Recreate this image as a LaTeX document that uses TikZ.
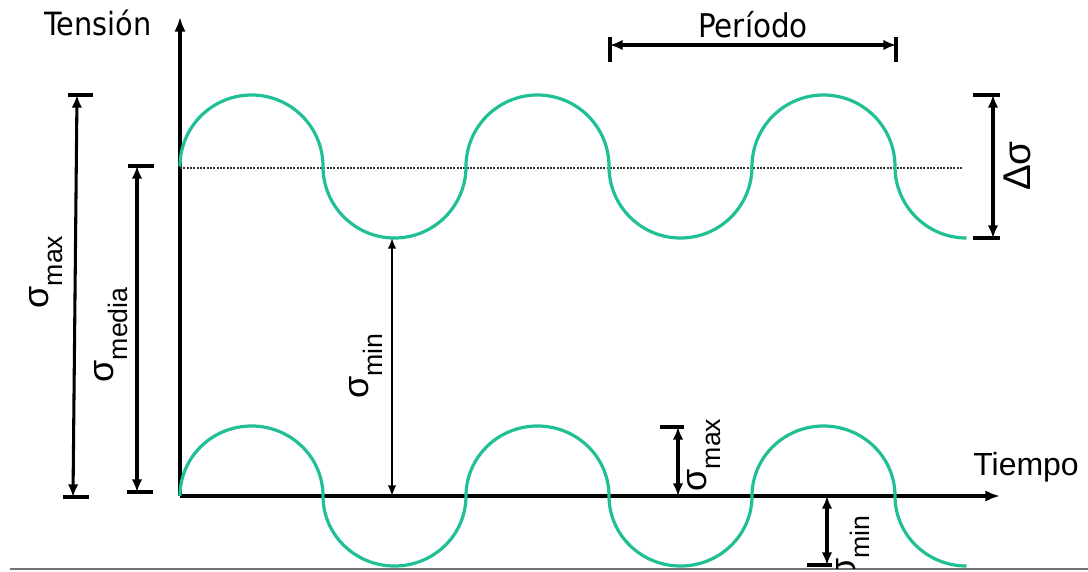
\documentclass[tikz,border=0pt]{standalone}
\usepackage{fontspec}
\setmainfont{Liberation Sans}
\newfontfamily\tahomalike{DejaVu Sans Condensed}
\usetikzlibrary{arrows.meta}
\definecolor{wavecol}{RGB}{32,191,150}
\newcommand{\sigl}[1]{{\fontsize{27}{27}\selectfont σ}\raisebox{-11pt}{\fontsize{20}{20}\selectfont #1}}
\begin{document}
\begin{tikzpicture}[x=0.75pt,y=0.75pt,
  axisline/.style={line width=2.3pt,-{Latex[length=11pt,width=8.5pt]}},
  dim/.style={line width=2.3pt,{Latex[length=9.5pt,width=8pt]}-{Latex[length=9.5pt,width=8pt]}},
  thindim/.style={line width=1.5pt,{Latex[length=8pt,width=6.5pt]}-{Latex[length=8pt,width=6.5pt]}},
  barline/.style={line width=2.3pt},
  wavey/.style={wavecol,line width=2.4pt},
  lab/.style={inner sep=0pt,rotate=90},
  bigtxt/.style={inner sep=0pt}]
\useasboundingbox (0,0) rectangle (1088,-571);
\fill[white] (0,0) rectangle (1088,-571);

% axes
\coordinate (O) at (180,-496);
\coordinate (Ytop) at (180,-17);
\coordinate (Xend) at (1000,-496);
\draw[axisline] (O) -- (Ytop);
\draw[axisline] (O) -- (Xend);

% mean dotted line
\coordinate (m1) at (180,-168);
\coordinate (m2) at (963,-168);
\draw[line width=1.4pt,dash pattern=on 1.5pt off 1pt,black!80] (m1) -- (m2);

% upper wave
\draw[wavey] (180,-166.5)
  arc[start angle=180,end angle=0,radius=71.5]
  arc[start angle=180,end angle=360,radius=71.5]
  arc[start angle=180,end angle=0,radius=71.5]
  arc[start angle=180,end angle=360,radius=71.5]
  arc[start angle=180,end angle=0,radius=71.5]
  arc[start angle=180,end angle=270,radius=71.5];

% lower wave
\begin{scope}
\clip (0,0) rectangle (1088,-568);
\draw[wavey] (O)
  arc[start angle=180,end angle=0,x radius=71.5,y radius=70]
  arc[start angle=180,end angle=360,x radius=71.5,y radius=70]
  arc[start angle=180,end angle=0,x radius=71.5,y radius=70]
  arc[start angle=180,end angle=360,x radius=71.5,y radius=70]
  arc[start angle=180,end angle=0,x radius=71.5,y radius=70]
  arc[start angle=180,end angle=270,x radius=71.5,y radius=70];
\end{scope}

% bottom gray rule
\coordinate (g1) at (10,-569);
\coordinate (g2) at (1088,-569);
\draw[line width=1.2pt,black!55] (g1) -- (g2);

% sigma max (left)
\coordinate (smaxT) at (77,-95);
\coordinate (smaxB) at (73,-497);
\draw[barline] (68,-95) -- (93,-95);
\draw[barline] (63,-497) -- (89,-497);
\draw[dim] (smaxT) -- (smaxB);
\node[lab] (lmax) at (46,-272) {\sigl{max}};

% sigma media
\coordinate (smedT) at (137,-166);
\coordinate (smedB) at (137,-492);
\draw[barline] (128,-166) -- (154,-166);
\draw[barline] (127,-492) -- (153,-492);
\draw[dim] (smedT) -- (smedB);
\node[lab] (lmed) at (111,-335) {\sigl{media}};

% sigma min (middle)
\coordinate (sminT) at (392,-238);
\coordinate (sminB) at (392,-496);
\draw[thindim] (sminT) -- (sminB);
\node[lab] (lmin) at (366,-366) {\sigl{min}};

% period
\coordinate (pL) at (610,-45);
\coordinate (pR) at (896,-45);
\draw[barline] (610,-37) -- (610,-62);
\draw[barline] (896,-37) -- (896,-62);
\draw[dim] (pL) -- (pR);
\node[bigtxt,anchor=base] (lper) at (753,-37) {\tahomalike\fontsize{24.5}{24.5}\selectfont Período};

% delta sigma
\coordinate (dT) at (993,-95);
\coordinate (dB) at (993,-238);
\draw[barline] (973,-95) -- (1000,-95);
\draw[barline] (973,-238) -- (1000,-238);
\draw[dim] (dT) -- (dB);
\node[lab] (ldel) at (1017,-166) {\fontsize{29}{29}\selectfont Δσ};

% lower sigma max
\coordinate (lsmaxT) at (678,-427);
\coordinate (lsmaxB) at (678,-496);
\draw[barline] (660,-427) -- (684,-427);
\draw[dim] (lsmaxT) -- (lsmaxB);
\node[lab] (llmax) at (704,-455) {\sigl{max}};

% lower sigma min
\coordinate (lsminT) at (827,-496);
\coordinate (lsminB) at (827,-565);
\draw[barline] (807,-565) -- (832,-565);
\draw[dim] (lsminT) -- (lsminB);
\begin{scope}
\clip (0,0) rectangle (1088,-568);
\node[lab] (llmin) at (853,-548) {\sigl{min}};
\end{scope}

% axis titles
\node[bigtxt,anchor=base west] (ten) at (44,-36) {\tahomalike\fontsize{24}{24}\selectfont Tensión};
\node[bigtxt,anchor=base west] (tie) at (973,-475) {\fontsize{24}{24}\selectfont Tiempo};
\end{tikzpicture}
\end{document}
